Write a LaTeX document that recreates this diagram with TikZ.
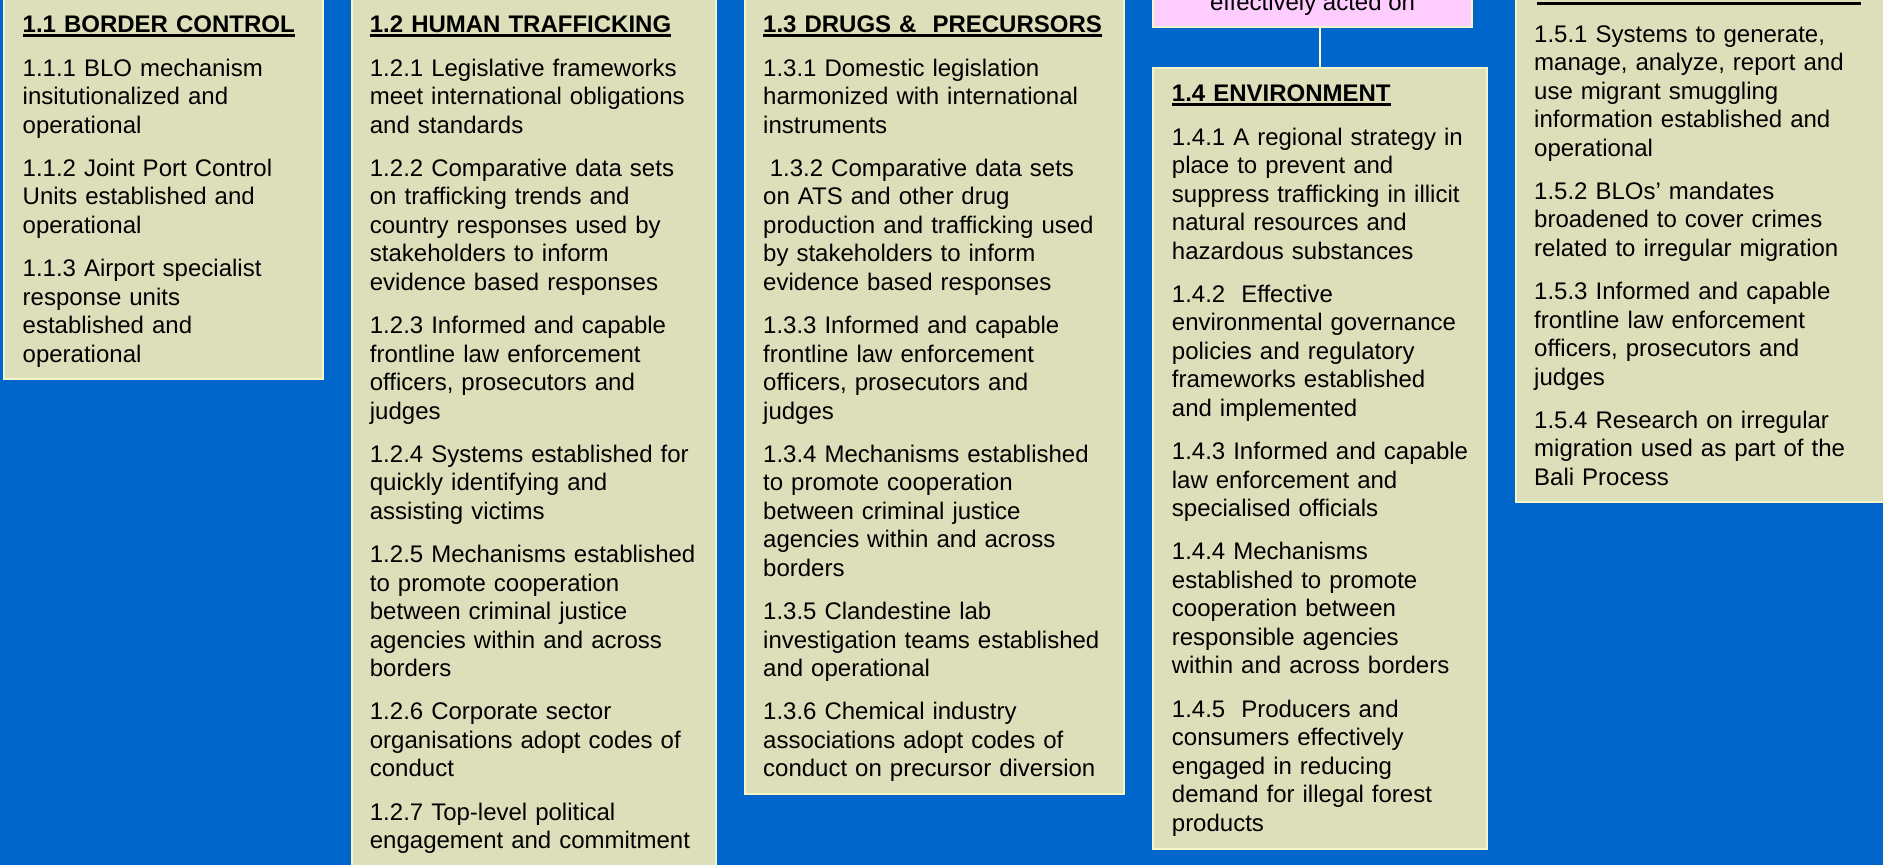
\documentclass[tikz,border=0pt]{standalone}
\usepackage{fontspec}
\setmainfont{Liberation Sans}
\definecolor{bgblue}{HTML}{0066CC}
\definecolor{boxfill}{HTML}{DDDFBA}
\definecolor{boxline}{HTML}{F5F5C8}
\definecolor{pinkfill}{HTML}{FFCCFF}
\definecolor{connline}{HTML}{FFFFE0}
\newcommand\ulbox[1]{\setbox0\hbox{#1}\rlap{\rule[-4.5pt]{\wd0}{3pt}}\box0}
\newcommand\firstline{\rule{0pt}{20pt}}
\newcommand\itemgap{\\[14.75pt]}
\begin{document}
\begin{tikzpicture}[x=1pt,y=-1pt,
  panel/.style={draw=boxline,line width=1.5pt,fill=boxfill,anchor=north west,inner sep=0pt,outer sep=0pt},
  pinkpanel/.style={draw=boxline,line width=1.5pt,fill=pinkfill,anchor=north west,inner sep=0pt,outer sep=0pt},
  body/.style={anchor=north west,inner sep=0pt,align=left,text width=#1,font=\fontsize{24pt}{28.5pt}\selectfont},
  conn/.style={draw=connline,line width=2pt}]
\useasboundingbox (0,0) rectangle (1883,865);
\clip (0,0) rectangle (1883,865);
\fill[bgblue] (0,0) rectangle (1883,865);

% panels
\node[panel,minimum width=319pt,minimum height=389pt] (p1) at (4,-10) {};
\node[panel,minimum width=364pt,minimum height=890pt] (p2) at (352,-10) {};
\node[panel,minimum width=379pt,minimum height=804pt] (p3) at (745,-10) {};
\node[pinkpanel,minimum width=319pt,minimum height=87pt] (pink) at (1153,-60) {};
\node[panel,minimum width=334pt,minimum height=781pt] (p4) at (1153,68) {};
\node[panel,minimum width=380pt,minimum height=512pt] (p5) at (1516,-10) {};

% connector
\draw[conn] (p4.north) -- (p4.north |- pink.south);

% pink text
\node[anchor=base,inner sep=0pt,font=\fontsize{24pt}{28.5pt}\selectfont] (pinktext) at (1312.5,10) {effectively acted on};

% box 1
\node[body=295pt] (t1) at (22.5,12.75) {\firstline\ulbox{\bfseries 1.1 BORDER CONTROL}\itemgap
1.1.1 BLO mechanism\\
insitutionalized and\\
operational\itemgap
1.1.2 Joint Port Control\\
Units established and\\
operational\itemgap
1.1.3 Airport specialist\\
response units\\
established and\\
operational};

% box 2
\node[body=340pt] (t2) at (369.7,12.75) {\firstline\ulbox{\bfseries 1.2 HUMAN TRAFFICKING}\itemgap
1.2.1 Legislative frameworks\\
meet international obligations\\
and standards\itemgap
1.2.2 Comparative data sets\\
on trafficking trends and\\
country responses used by\\
stakeholders to inform\\
evidence based responses\itemgap
1.2.3 Informed and capable\\
frontline law enforcement\\
officers, prosecutors and\\
judges\itemgap
1.2.4 Systems established for\\
quickly identifying and\\
assisting victims\itemgap
1.2.5 Mechanisms established\\
to promote cooperation\\
between criminal justice\\
agencies within and across\\
borders\itemgap
1.2.6 Corporate sector\\
organisations adopt codes of\\
conduct\itemgap
1.2.7 Top-level political\\
engagement and commitment};

% box 3
\node[body=358pt] (t3) at (763,12.75) {\firstline\ulbox{\bfseries 1.3 DRUGS \&\ \ PRECURSORS}\itemgap
1.3.1 Domestic legislation\\
harmonized with international\\
instruments\itemgap
\hspace*{6.67pt}1.3.2 Comparative data sets\\
on ATS and other drug\\
production and trafficking used\\
by stakeholders to inform\\
evidence based responses\itemgap
1.3.3 Informed and capable\\
frontline law enforcement\\
officers, prosecutors and\\
judges\itemgap
1.3.4 Mechanisms established\\
to promote cooperation\\
between criminal justice\\
agencies within and across\\
borders\itemgap
1.3.5 Clandestine lab\\
investigation teams established\\
and operational\itemgap
1.3.6 Chemical industry\\
associations adopt codes of\\
conduct on precursor diversion};

% box 4
\node[body=312pt] (t4) at (1171.7,81.75) {\firstline\ulbox{\bfseries 1.4 ENVIRONMENT}\itemgap
1.4.1 A regional strategy in\\
place to prevent and\\
suppress trafficking in illicit\\
natural resources and\\
hazardous substances\itemgap
1.4.2\ \ Effective\\
environmental governance\\
policies and regulatory\\
frameworks established\\
and implemented\itemgap
1.4.3 Informed and capable\\
law enforcement and\\
specialised officials\itemgap
1.4.4 Mechanisms\\
established to promote\\
cooperation between\\
responsible agencies\\
within and across borders\itemgap
1.4.5\ \ Producers and\\
consumers effectively\\
engaged in reducing\\
demand for illegal forest\\
products};

% box 5
\fill[black] (1537,1.5) rectangle (1861,4.5);
\node[body=340pt] (t5) at (1534,22) {\firstline 1.5.1 Systems to generate,\\
manage, analyze, report and\\
use migrant smuggling\\
information established and\\
operational\itemgap
1.5.2 BLOs’ mandates\\
broadened to cover crimes\\
related to irregular migration\itemgap
1.5.3 Informed and capable\\
frontline law enforcement\\
officers, prosecutors and\\
judges\itemgap
1.5.4 Research on irregular\\
migration used as part of the\\
Bali Process};
\end{tikzpicture}
\end{document}
